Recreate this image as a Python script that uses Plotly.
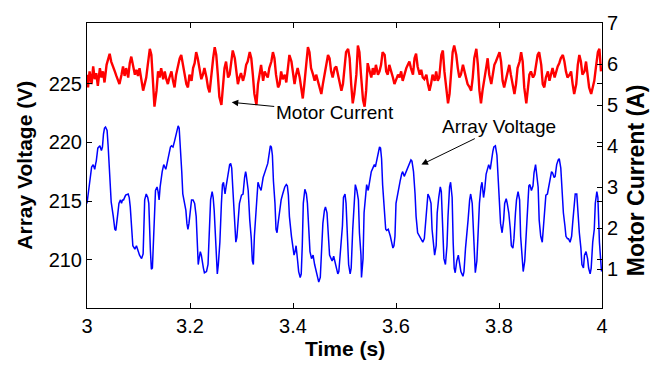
import plotly.graph_objects as go

# ---- Array voltage (V) vs time (s) ----
volt_t = [3.000,3.002,3.005,3.009,3.012,3.015,3.017,3.018,3.021,3.025,
3.028,3.030,3.032,3.034,3.036,3.039,3.041,3.043,3.045,3.047,
3.051,3.054,3.056,3.058,3.060,3.062,3.065,3.067,3.069,3.071,
3.075,3.080,3.082,3.084,3.086,3.089,3.093,3.096,3.099,3.102,
3.106,3.109,3.112,3.115,3.118,3.120,3.123,3.125,3.127,3.129,
3.131,3.133,3.136,3.138,3.140,3.142,3.146,3.149,3.151,3.153,
3.155,3.159,3.162,3.164,3.167,3.170,3.173,3.177,3.179,3.180,
3.182,3.184,3.186,3.190,3.192,3.194,3.196,3.198,3.201,3.203,
3.206,3.209,3.212,3.214,3.216,3.217,3.220,3.222,3.224,3.226,
3.228,3.232,3.235,3.238,3.240,3.243,3.245,3.247,3.248,3.251,
3.253,3.255,3.258,3.261,3.263,3.265,3.268,3.270,3.274,3.277,
3.279,3.281,3.283,3.285,3.287,3.289,3.291,3.294,3.296,3.300,
3.303,3.306,3.308,3.309,3.313,3.316,3.319,3.321,3.323,3.325,
3.329,3.332,3.335,3.338,3.342,3.345,3.348,3.351,3.355,3.356,
3.358,
3.360,3.362,3.365,3.367,3.369,3.371,3.374,3.377,3.380,3.384,
3.387,3.389,3.391,3.393,3.397,3.400,3.402,3.404,3.406,3.409,
3.411,3.414,3.416,3.418,3.420,3.423,3.426,3.428,3.431,3.433,
3.436,3.439,3.442,3.445,3.448,3.450,3.453,3.455,3.458,3.461,
3.463,3.466,3.468,3.471,3.474,3.476,3.479,3.481,3.484,3.487,
3.489,3.492,3.496,3.498,3.501,3.503,3.506,3.508,3.511,3.513,
3.516,3.519,3.521,3.524,3.527,3.529,3.532,3.533,3.536,3.538,
3.541,3.543,3.546,3.549,3.552,3.555,3.558,3.560,3.563,3.565,
3.568,3.570,3.572,3.574,3.577,3.580,3.582,3.585,3.589,3.591,
3.594,3.596,3.598,3.600,3.603,3.605,3.608,3.611,3.613,3.616,
3.620,3.623,3.626,3.629,3.631,3.634,3.637,3.639,3.642,3.646,
3.649,3.652,3.655,3.657,3.660,3.662,3.665,3.668,3.670,3.673,
3.675,3.678,3.680,3.683,3.686,3.688,3.691,3.693,3.696,3.699,
3.701,3.704,3.706,3.709,3.711,3.713,3.715,3.718,3.721,
3.726,3.730,3.732,3.735,3.737,3.740,3.743,3.745,3.748,3.750,
3.752,3.754,3.757,3.759,3.762,3.765,3.767,3.770,3.772,3.775,
3.778,3.780,3.783,3.785,3.788,3.790,3.793,3.796,3.798,3.801,
3.803,3.806,3.809,3.811,3.814,3.816,3.819,3.822,3.824,3.827,
3.829,3.832,3.834,3.837,3.840,3.842,3.845,3.847,3.850,3.853,
3.855,3.858,3.860,3.863,3.866,3.868,3.871,3.873,3.876,3.878,
3.881,3.884,3.886,3.889,3.891,3.894,3.897,3.899,3.902,3.904,
3.907,3.909,3.912,3.915,3.917,3.920,3.922,3.925,3.928,3.930,
3.933,3.935,3.938,3.941,3.943,3.946,3.948,3.951,3.953,3.956,
3.959,3.961,3.964,3.966,3.969,3.972,3.974,3.977,3.979,3.982,
3.985,3.987,3.990,3.992,3.995,3.997,3.999]

volt_v = [214.8,215.6,216.7,217.9,218.1,217.7,218.2,218.4,219.5,219.7,
219.3,219.6,220.7,221.2,221.3,221.0,219.7,218.4,216.4,214.9,
213.7,212.6,212.5,213.1,214.0,214.8,215.1,214.8,215.1,215.1,
215.5,215.6,215.3,214.5,213.1,211.2,210.9,211.2,210.8,210.4,
210.1,210.5,215.1,215.6,215.3,214.8,210.9,209.2,209.3,211.5,
213.7,215.9,216.2,215.8,215.1,216.2,217.5,218.1,217.9,217.7,
218.1,218.9,219.6,219.7,219.6,220.1,220.8,221.4,221.2,220.6,
219.2,217.5,215.6,214.5,214.2,213.1,212.6,213.1,214.8,215.1,
215.1,214.8,213.7,211.2,209.6,209.9,210.7,210.4,209.6,209.3,
208.9,209.0,209.6,212.6,215.1,215.8,215.3,214.2,213.4,209.9,
208.8,209.6,211.5,214.8,216.4,216.6,215.6,216.2,217.3,218.1,
218.2,217.8,216.2,214.8,212.6,211.5,211.9,213.9,214.8,215.5,
215.6,217.0,217.5,217.3,215.9,213.4,211.8,209.9,209.6,212.0,
215.3,216.6,216.2,215.9,217.0,217.5,217.8,218.2,219.2,219.7,
219.6,
218.9,216.7,214.8,212.6,212.3,213.1,214.2,215.1,215.6,216.2,
216.4,216.3,215.5,213.7,212.0,211.0,210.4,210.7,211.2,209.9,
209.0,208.5,208.8,211.2,214.8,216.0,215.6,214.8,212.6,210.7,
210.1,210.4,209.6,209.0,208.5,208.1,208.5,211.0,213.1,214.2,
214.5,214.0,212.6,210.4,210.1,209.9,210.3,209.9,209.3,208.8,
209.0,211.0,212.9,215.3,215.6,214.8,212.3,209.6,208.8,209.3,
212.6,215.3,216.4,215.9,215.1,212.3,210.4,208.5,210.1,214.0,
215.9,216.4,215.9,216.7,217.5,217.8,218.1,217.9,218.6,219.2,
219.6,219.5,218.6,216.4,214.0,212.6,212.5,212.6,212.0,211.5,
211.0,211.2,212.0,214.8,215.6,215.9,216.7,217.3,217.5,217.1,
217.5,217.8,218.1,218.5,218.4,217.5,215.6,213.7,212.3,212.0,
211.8,211.5,211.8,213.1,215.1,215.6,215.3,214.8,212.6,211.0,
210.4,211.2,214.0,215.3,216.2,215.8,212.9,210.1,209.6,211.2,
213.7,216.2,216.6,215.3,211.5,209.3,208.9,209.9,210.4,
209.0,208.6,209.0,211.0,211.8,213.4,215.1,215.6,214.8,212.6,
210.4,208.9,209.9,212.0,214.8,216.2,216.6,215.3,215.9,217.3,
217.8,218.1,217.7,218.4,219.2,219.6,219.7,218.9,217.5,214.8,
213.1,212.3,213.4,214.8,215.2,214.8,214.0,212.6,211.2,211.0,
211.8,214.0,215.1,215.8,215.1,212.0,209.9,209.0,209.9,212.6,
214.8,216.3,216.4,215.9,216.3,217.4,218.1,217.5,216.2,213.4,
212.0,211.5,212.6,214.8,215.5,215.6,216.3,217.0,217.5,217.4,
217.0,217.1,218.1,218.5,218.6,217.8,216.2,214.0,212.9,212.0,
211.8,211.8,211.5,212.0,213.1,214.5,215.6,215.6,214.0,212.3,
211.0,209.6,209.3,210.4,210.7,210.1,209.3,208.8,209.3,211.5,
212.6,214.8,215.8,215.3,211.5,209.9,209.0]

# ---- Motor current (A) vs time (s) ----
curr_t = [3.000,3.002,3.005,3.009,3.012,3.015,3.018,3.021,3.025,3.028,
3.031,3.034,3.038,3.041,3.044,3.047,3.051,3.054,3.057,3.060,
3.063,3.067,3.070,3.073,3.076,3.080,3.083,3.086,3.089,3.093,
3.096,3.099,3.102,3.106,3.109,3.112,3.115,3.118,3.122,3.125,
3.128,3.131,3.135,3.138,3.141,3.144,3.148,3.151,3.154,3.157,
3.160,3.164,3.167,3.170,3.173,3.177,3.180,3.183,3.186,3.190,
3.193,3.196,3.199,3.203,3.206,3.209,3.212,3.215,3.219,3.222,
3.225,3.228,3.232,3.235,3.238,3.241,3.245,3.248,3.251,3.254,
3.257,3.261,3.264,3.267,3.270,3.274,3.277,3.280,3.283,3.287,
3.290,3.293,3.296,3.299,3.303,3.306,3.309,3.312,3.316,3.319,
3.322,3.325,3.329,3.332,3.335,3.338,3.342,3.345,3.348,3.351,
3.354,3.358,3.361,3.364,3.367,3.371,3.374,
3.377,3.380,3.384,3.387,3.390,3.393,3.397,3.400,3.403,3.406,
3.409,3.413,3.416,3.419,3.422,3.426,3.429,3.432,3.435,3.439,
3.442,3.445,3.448,3.452,3.455,3.458,3.461,3.464,3.468,3.471,
3.474,3.477,3.481,3.484,3.487,3.490,3.494,3.497,3.500,3.503,
3.507,3.510,3.513,3.516,3.519,3.523,3.526,3.529,3.532,3.536,
3.539,3.542,3.545,3.549,3.552,3.555,3.558,3.561,3.565,3.568,
3.571,3.574,3.578,3.581,3.584,3.587,3.591,3.594,3.597,3.600,
3.604,3.607,3.610,3.613,3.616,3.620,3.623,3.626,3.629,3.633,
3.636,3.639,3.642,3.646,3.649,3.652,3.655,3.659,3.662,3.665,
3.668,3.671,3.675,3.678,3.681,3.684,3.688,3.691,3.694,3.697,
3.701,3.704,3.707,3.710,3.713,3.717,3.720,3.723,3.726,3.730,
3.733,3.736,3.739,3.743,
3.746,3.749,3.752,3.756,3.759,3.762,3.765,3.768,3.772,3.775,
3.778,3.781,3.785,3.788,3.791,3.794,3.798,3.801,3.804,3.807,
3.810,3.814,3.817,3.820,3.823,3.827,3.830,3.833,3.836,3.840,
3.843,3.846,3.849,3.853,3.856,3.859,3.862,3.866,3.869,3.872,
3.875,3.878,3.882,3.885,3.888,3.891,3.895,3.898,3.901,3.904,
3.908,3.911,3.914,3.917,3.920,3.924,3.927,3.930,3.933,3.937,
3.940,3.943,3.946,3.950,3.953,3.956,3.959,3.962,3.966,3.969,
3.972,3.975,3.979,3.982,3.985,3.988,3.992,3.995,3.998]

curr_i = [5.74,5.43,5.82,5.51,5.94,5.63,5.78,5.47,5.90,5.67,
5.82,5.55,5.98,6.14,6.25,6.06,5.94,5.82,5.71,5.63,
5.51,5.74,5.94,5.71,5.90,5.67,6.02,6.18,5.98,5.74,
5.86,5.71,5.90,5.63,5.35,5.51,5.67,5.98,6.37,6.22,
5.51,4.96,5.35,5.82,5.67,5.90,5.63,5.82,5.63,5.51,
5.67,5.82,5.59,5.43,5.74,5.98,6.14,6.22,6.02,5.74,
5.51,5.43,5.74,5.59,5.90,6.02,6.29,6.14,5.82,5.63,
5.74,5.90,5.67,5.43,5.31,5.74,6.14,6.41,6.22,5.74,
5.20,5.00,5.43,5.90,6.06,5.67,5.74,5.98,6.33,6.14,
5.74,5.51,5.67,5.78,5.59,5.74,5.98,6.06,6.29,6.14,
5.74,5.27,5.00,5.51,5.74,5.98,5.59,5.82,5.74,5.67,
5.90,6.06,6.29,6.14,5.74,5.43,5.51,
5.82,5.63,5.74,5.55,5.90,6.22,6.06,5.82,5.51,5.74,
5.90,5.67,5.43,5.16,5.51,5.98,6.41,6.29,5.90,5.74,
5.59,5.74,5.59,5.43,5.27,5.51,5.74,5.98,6.22,6.14,
5.82,5.67,5.90,5.94,5.74,5.59,5.35,5.51,5.98,6.29,
6.37,6.14,5.51,5.04,5.27,5.74,6.45,6.29,5.74,5.12,
4.96,5.35,6.02,5.82,5.67,5.90,5.74,5.98,5.74,5.82,
5.98,6.29,6.22,5.82,5.74,5.98,5.82,5.67,5.51,5.63,
5.74,5.67,5.82,5.59,5.74,5.90,5.98,6.06,5.90,5.74,
6.14,6.25,5.94,5.74,5.86,5.67,5.63,5.74,5.51,5.35,
5.51,5.74,5.59,5.82,5.59,5.67,6.22,6.33,5.82,5.43,
5.04,5.27,5.90,6.29,6.45,6.22,5.90,5.67,5.74,5.98,
5.82,5.67,5.51,5.43,
5.35,5.67,6.14,6.37,5.98,5.35,5.04,5.35,5.74,5.90,
6.14,5.74,5.51,5.74,5.98,6.06,6.22,6.29,6.06,5.59,
5.43,5.67,5.82,5.98,5.74,5.43,5.27,5.51,5.90,6.06,
6.29,6.06,5.43,5.04,5.35,5.74,5.82,5.67,5.74,5.98,
6.22,6.29,5.98,5.51,5.43,5.67,5.82,5.59,5.74,5.90,
5.67,5.82,5.94,6.02,6.14,6.22,6.06,5.82,5.67,5.74,
5.82,5.51,5.27,5.51,5.98,6.22,6.06,5.74,5.82,6.06,
5.67,5.43,5.27,5.43,5.59,5.90,6.29,6.37,5.82]

x_ticks = [3, 3.2, 3.4, 3.6, 3.8, 4]
x_ticktext = ["3", "3.2", "3.4", "3.6", "3.8", "4"]
v_ticks = [210, 215, 220, 225]
i_ticks = [1, 2, 3, 4, 5, 6, 7]

FONT = "Liberation Sans, Arial, sans-serif"

fig = go.Figure()
fig.add_trace(go.Scatter(x=volt_t, y=volt_v, mode="lines",
                         line=dict(color="#0000ff", width=1.5), yaxis="y",
                         name="Array Voltage"))
fig.add_trace(go.Scatter(x=curr_t, y=curr_i, mode="lines",
                         line=dict(color="#ff0000", width=2.4), yaxis="y2",
                         name="Motor Current"))

axis_common = dict(showgrid=False, zeroline=False, showline=True,
                   linecolor="black", linewidth=1, ticks="inside",
                   ticklen=5, tickcolor="black", tickwidth=1,
                   tickfont=dict(family=FONT, size=20, color="black"))

fig.update_layout(
    width=657, height=368,
    margin=dict(l=87, r=55, t=13, b=60),
    paper_bgcolor="white", plot_bgcolor="white",
    showlegend=False,
    xaxis=dict(range=[3, 4], tickvals=x_ticks, ticktext=x_ticktext,
               mirror="ticks", **axis_common),
    yaxis=dict(range=[205.9, 230.15], tickvals=v_ticks, mirror="ticks",
               **axis_common),
    yaxis2=dict(range=[0.05, 7], tickvals=i_ticks, overlaying="y",
                side="right", **axis_common),
    annotations=[
        dict(text="<b>Array Voltage (V)</b>", xref="paper", yref="paper",
             x=-0.122, y=0.5, textangle=-90, showarrow=False,
             xanchor="center", yanchor="middle",
             font=dict(family=FONT, size=21, color="black")),
        dict(text="<b>Motor Current (A)</b>", xref="paper", yref="paper",
             x=1.065, y=0.45, textangle=-90, showarrow=False,
             xanchor="center", yanchor="middle",
             font=dict(family=FONT, size=23, color="black")),
        dict(text="<b>Time (s)</b>", xref="paper", yref="paper",
             x=0.5, y=-0.142, showarrow=False,
             xanchor="center", yanchor="middle",
             font=dict(family=FONT, size=21, color="black")),
        dict(text="Motor Current", xref="x", yref="y",
             x=3.281, y=223.4, ax=103, ay=10, showarrow=True,
             arrowhead=2, arrowsize=1.3, arrowwidth=1, arrowcolor="black",
             font=dict(family=FONT, size=19, color="black")),
        dict(text="Array Voltage", xref="x", yref="y",
             x=3.6494, y=218.1, ax=78, ay=-38, showarrow=True,
             arrowhead=2, arrowsize=1.3, arrowwidth=1, arrowcolor="black",
             font=dict(family=FONT, size=19, color="black")),
    ],
)

fig.write_html("out.html")
